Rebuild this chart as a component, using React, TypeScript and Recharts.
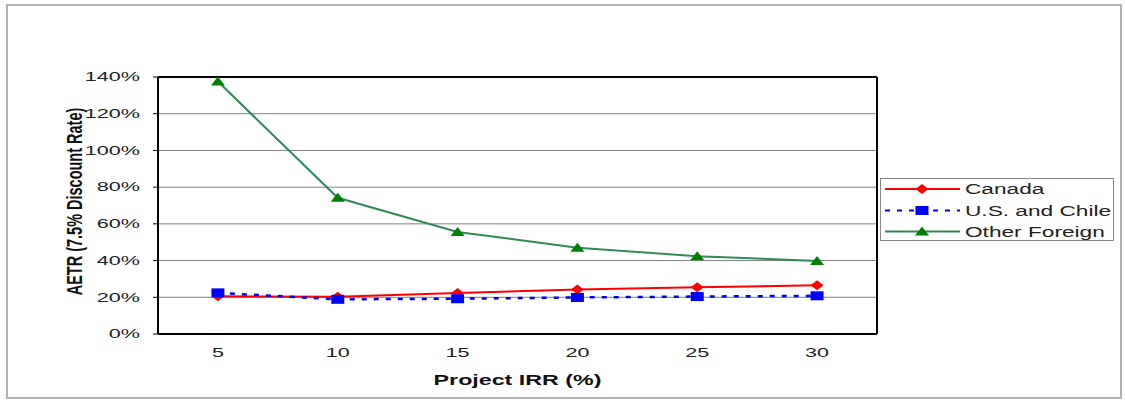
import React from "react";
import {
  CartesianGrid,
  Label,
  Legend,
  Line,
  LineChart,
  ReferenceLine,
  XAxis,
  YAxis,
} from "recharts";

// Project IRR categories (%)
const IRR = [5, 10, 15, 20, 25, 30];
// tick marks sit between the categories
const IRR_BOUNDS = [2.5, 7.5, 12.5, 17.5, 22.5, 27.5, 32.5];

// AETR in %
const CANADA = [20.5, 20.3, 22.3, 24.2, 25.4, 26.6];
const US_CHILE = [22.4, 18.9, 19.2, 19.9, 20.4, 20.8];
const OTHER_FOREIGN = [137.5, 74.2, 55.6, 47.0, 42.4, 39.8];

const Y_TICKS = [0, 20, 40, 60, 80, 100, 120, 140];

const data = IRR.map((irr, i) => ({
  irr,
  canada: CANADA[i],
  us: US_CHILE[i],
  other: OTHER_FOREIGN[i],
}));

const FONT = "'Liberation Sans', Arial, sans-serif";
const SX = 1.8; // the source is stretched sideways

const RED = "#ff0000";
const BLUE = "#0000ee";
const GREEN_LINE = "#2e8b57";
const GREEN = "#008000";

const diamond = (cx: number, cy: number, fill: string, key?: string) => (
  <path
    key={key}
    d={`M${cx},${cy - 5}L${cx + 6.5},${cy}L${cx},${cy + 5}L${cx - 6.5},${cy}Z`}
    fill={fill}
  />
);
const square = (cx: number, cy: number, fill: string, key?: string) => (
  <rect key={key} x={cx - 6.5} y={cy - 4.5} width={13} height={9} fill={fill} />
);
const triangle = (cx: number, cy: number, fill: string, key?: string) => (
  <path
    key={key}
    d={`M${cx},${cy - 5}L${cx + 7},${cy + 4}L${cx - 7},${cy + 4}Z`}
    fill={fill}
  />
);

const SERIES = [
  { key: "canada", name: "Canada", stroke: RED, dash: undefined, marker: diamond, fill: RED },
  { key: "us", name: "U.S. and Chile", stroke: BLUE, dash: "5 7", marker: square, fill: "#0000ff" },
  { key: "other", name: "Other Foreign", stroke: GREEN_LINE, dash: undefined, marker: triangle, fill: GREEN },
];

function YTick({ x, y, payload }: any) {
  return (
    <text
      transform={`translate(${x},${y}) scale(${SX},1)`}
      textAnchor="end"
      dy="0.355em"
      fontFamily={FONT}
      fontSize={12}
      fill="#222"
    >
      {payload.value}%
    </text>
  );
}

function XTick({ x, y, payload }: any) {
  return (
    <text
      transform={`translate(${x},${y}) scale(${SX},1)`}
      textAnchor="middle"
      dy="0.71em"
      fontFamily={FONT}
      fontSize={12}
      fill="#222"
    >
      {payload.value}
    </text>
  );
}

function LegendBox() {
  const rows = [11, 32.5, 53.5];
  return (
    <svg width={234} height={63} style={{ display: "block" }}>
      <rect x={0.5} y={0.5} width={233} height={62} fill="#fff" stroke="#888" />
      {SERIES.map((s, i) => (
        <g key={s.key}>
          <line
            x1={5}
            x2={80}
            y1={rows[i]}
            y2={rows[i]}
            stroke={s.stroke}
            strokeWidth={2}
            strokeDasharray={s.dash}
          />
          {s.marker(42, rows[i], s.fill)}
          <text
            transform={`translate(85,${rows[i]}) scale(1.62,1)`}
            dy="0.36em"
            fontFamily={FONT}
            fontSize={14}
            fill="#222"
          >
            {s.name}
          </text>
        </g>
      ))}
    </svg>
  );
}

export default function App() {
  return (
    <div
      style={{
        position: "absolute",
        left: 0,
        top: 0,
        width: 1125,
        height: 407,
        background: "#fff",
      }}
    >
      <div
        style={{
          position: "absolute",
          left: 6,
          top: 4,
          width: 1116,
          height: 395,
          boxSizing: "border-box",
          border: "2px solid #b3b3b3",
        }}
      />
      <LineChart
        width={1125}
        height={407}
        data={data}
        margin={{ top: 77, right: 248, bottom: 12, left: 0 }}
      >
        <CartesianGrid xAxisId="x" vertical={false} stroke="#808080" strokeWidth={1} />
        <XAxis
          xAxisId="marks"
          type="number"
          domain={[2.5, 32.5]}
          ticks={IRR_BOUNDS}
          interval={0}
          tick={false}
          tickSize={5}
          tickLine={{ stroke: "#000" }}
          axisLine={{ stroke: "#000", strokeWidth: 2 }}
          height={1}
        />
        <XAxis
          xAxisId="x"
          dataKey="irr"
          type="number"
          domain={[2.5, 32.5]}
          ticks={IRR}
          interval={0}
          axisLine={false}
          tickLine={false}
          tickSize={5}
          tickMargin={8}
          tick={<XTick />}
          height={60}
        >
          <Label
            content={(props: any) => {
              const { x, y, width } = props.viewBox;
              return (
                <text
                  transform={`translate(${x + width / 2},${y + 50}) scale(1.55,1)`}
                  textAnchor="middle"
                  fontFamily={FONT}
                  fontSize={15}
                  fontWeight="bold"
                  fill="#111"
                >
                  Project IRR (%)
                </text>
              );
            }}
          />
        </XAxis>
        <YAxis
          domain={[0, 140]}
          ticks={Y_TICKS}
          interval={0}
          width={158}
          tickSize={5}
          tickMargin={13}
          tick={<YTick />}
          tickLine={{ stroke: "#000" }}
          axisLine={{ stroke: "#000", strokeWidth: 2 }}
        >
          <Label
            content={(props: any) => {
              const { x, y, height } = props.viewBox;
              return (
                <text
                  transform={`translate(${x + 74},${y + height / 2 - 4}) scale(1.5,1) rotate(-90)`}
                  textAnchor="middle"
                  dy="0.36em"
                  fontFamily={FONT}
                  fontSize={14.5}
                  fontWeight="bold"
                  fill="#111"
                >
                  AETR (7.5% Discount Rate)
                </text>
              );
            }}
          />
        </YAxis>
        <ReferenceLine xAxisId="x" y={140} stroke="#000" strokeWidth={2} />
        <ReferenceLine xAxisId="x" x={32.5} stroke="#000" strokeWidth={2} />
        <Legend
          layout="horizontal"
          verticalAlign="middle"
          align="center"
          wrapperStyle={{ left: 880, top: 178, width: 234, height: 63 }}
          content={() => <LegendBox />}
        />
        {SERIES.map((s) => (
          <Line
            key={s.key}
            xAxisId="x"
            type="linear"
            dataKey={s.key}
            name={s.name}
            stroke={s.stroke}
            strokeWidth={s.key === "us" ? 2.5 : 2}
            strokeDasharray={s.dash}
            dot={(p: any) => s.marker(p.cx, p.cy, s.fill, `${s.key}-${p.index}`)}
            activeDot={false}
            isAnimationActive={false}
          />
        ))}
      </LineChart>
    </div>
  );
}
